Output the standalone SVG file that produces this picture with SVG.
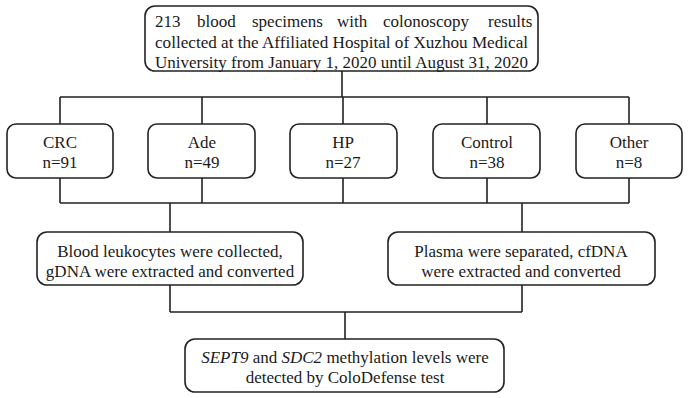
<svg xmlns="http://www.w3.org/2000/svg" width="688" height="398" viewBox="0 0 688 398">
<style>
.box{fill:#fff;stroke:#222;stroke-width:1.6}
.ln{fill:none;stroke:#222;stroke-width:1.6}
text{font-family:"Liberation Serif","Times New Roman",serif;font-size:17px;fill:#1a1a1a}
.c{text-anchor:middle}
</style>
<rect width="688" height="398" fill="#fff"/>
<g id="connectors">
<path class="ln" d="M342 71V97M60 97H629M60 97V124M202 97V124M343 97V124M487 97V124M629 97V124"/>
<path class="ln" d="M60 178V203M202 178V203M343 178V203M487 178V203M629 178V203M60 203H629M170 203V232M522 203V232"/>
<path class="ln" d="M170 285V312M522 285V312M170 312H522M345 312V339"/>
</g>
<g id="top">
<rect class="box" x="145" y="6" width="393" height="65" rx="10"/>
<text y="27"><tspan x="155">213</tspan><tspan x="197">blood</tspan><tspan x="252">specimens</tspan><tspan x="337">with</tspan><tspan x="383">colonoscopy</tspan><tspan x="488">results</tspan></text>
<text x="155" y="48" textLength="373" lengthAdjust="spacingAndGlyphs">collected at the Affiliated Hospital of Xuzhou Medical</text>
<text x="155" y="68" textLength="373" lengthAdjust="spacingAndGlyphs">University from January 1, 2020 until August 31, 2020</text>
</g>
<g id="crc">
<rect class="box" x="7" y="124" width="106" height="54" rx="9"/>
<text class="c" x="60" y="148">CRC</text>
<text class="c" x="60" y="168">n=91</text>
</g>
<g id="ade">
<rect class="box" x="148" y="124" width="107" height="54" rx="9"/>
<text class="c" x="202" y="148">Ade</text>
<text class="c" x="202" y="168">n=49</text>
</g>
<g id="hp">
<rect class="box" x="290" y="124" width="107" height="54" rx="9"/>
<text class="c" x="343" y="148">HP</text>
<text class="c" x="343" y="168">n=27</text>
</g>
<g id="control">
<rect class="box" x="433" y="124" width="107" height="54" rx="9"/>
<text class="c" x="487" y="148">Control</text>
<text class="c" x="487" y="168">n=38</text>
</g>
<g id="other">
<rect class="box" x="576" y="124" width="106" height="54" rx="9"/>
<text class="c" x="629" y="148">Other</text>
<text class="c" x="629" y="168">n=8</text>
</g>
<g id="leukocytes">
<rect class="box" x="37" y="232" width="266" height="53" rx="10"/>
<text class="c" x="170" y="257">Blood leukocytes were collected,</text>
<text class="c" x="170" y="277">gDNA were extracted and converted</text>
</g>
<g id="plasma">
<rect class="box" x="388" y="232" width="267" height="53" rx="10"/>
<text class="c" x="521" y="257">Plasma were separated, cfDNA</text>
<text class="c" x="521" y="277">were extracted and converted</text>
</g>
<g id="detect">
<rect class="box" x="185" y="339" width="319" height="53" rx="10"/>
<text class="c" x="345" y="363"><tspan font-style="italic">SEPT9</tspan> and <tspan font-style="italic">SDC2</tspan> methylation levels were</text>
<text class="c" x="345" y="383">detected by ColoDefense test</text>
</g>
</svg>
